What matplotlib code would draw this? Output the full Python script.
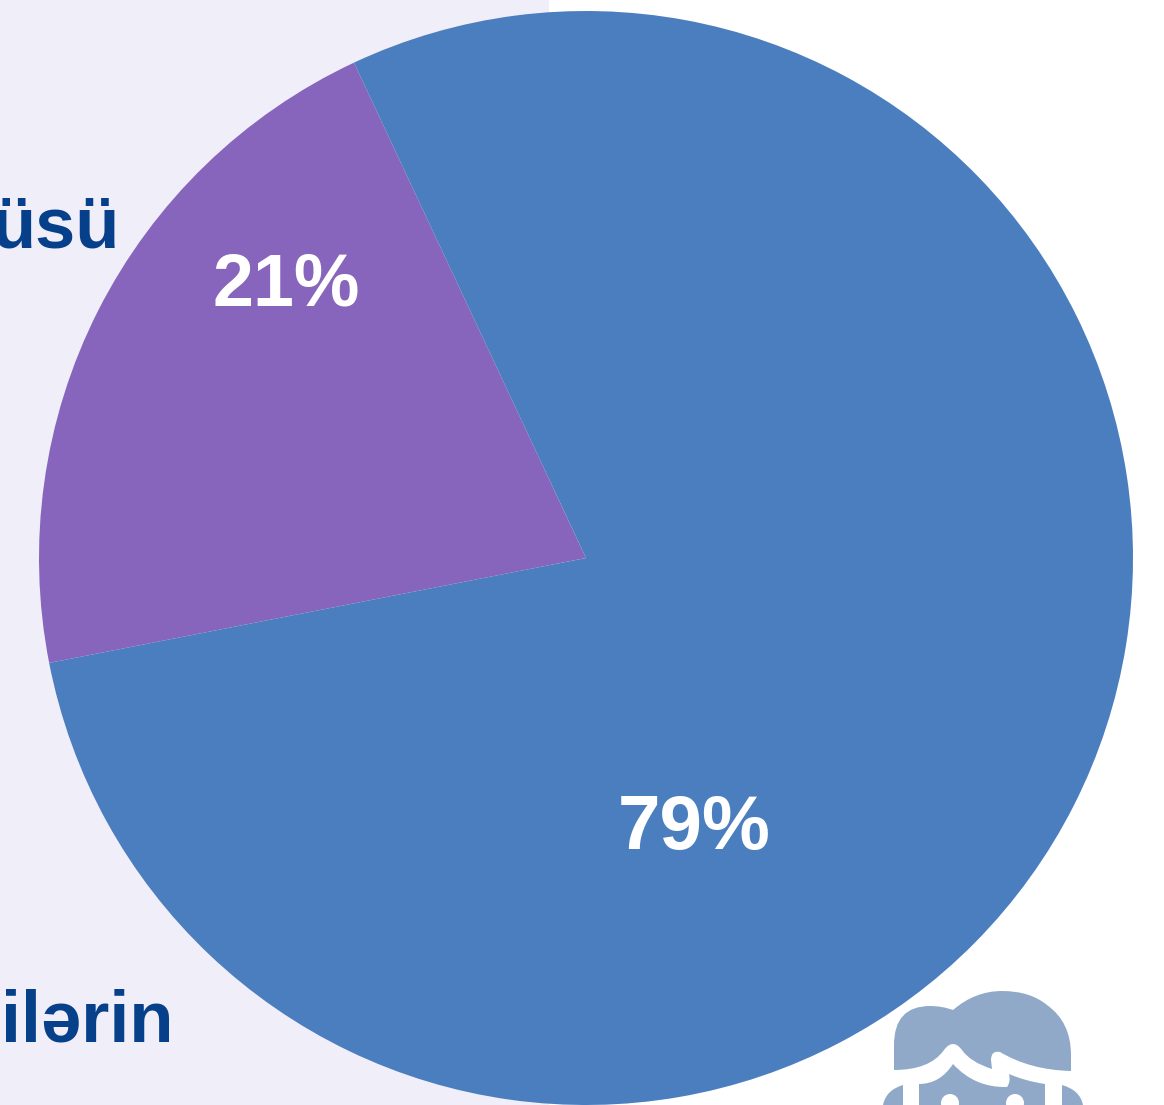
import matplotlib.pyplot as plt
from matplotlib.patches import Circle, PathPatch
from matplotlib.path import Path

# Data
shares = [21.1, 78.9]  # wedge sizes
share_labels = ['21%', '79%']
slice_colors = ['#8765BC', '#4B7EBE']
cut_off_labels = ['üsü', 'ilərin']

H = 1105


def flip(points):
    # picture coordinates have y going down
    return [(x, H - y) for x, y in points]


def icon_shape(ax, verts, codes, color='#90A9C9'):
    ax.add_patch(PathPatch(Path(flip(verts), codes), fc=color, ec='none', zorder=4))


plt.rcParams['font.family'] = ['Liberation Sans', 'DejaVu Sans']
fig = plt.figure(figsize=(11.64, 11.05), dpi=100)
ax = fig.add_axes([0, 0, 1, 1])

ax.axvspan(0, 549, color='#F0EEF8', lw=0, zorder=0)

# Step 1: the pie
ax.pie(shares, colors=slice_colors, startangle=115.1, center=(586, H - 558), radius=547,
       frame=True, wedgeprops={'linewidth': 0, 'zorder': 2})
ax.set_xlim(0, 1164)
ax.set_ylim(0, H)
ax.set_aspect('equal')
ax.axis('off')

# Step 2: labels
ax.text(286, H - 305, share_labels[0], color='white', fontsize=53, fontweight='bold',
        ha='center', va='baseline', zorder=5)
ax.text(694, H - 849, share_labels[1], color='white', fontsize=55, fontweight='bold',
        ha='center', va='baseline', zorder=5)
ax.text(120, H - 247, cut_off_labels[0], color='#07408A', fontsize=52, fontweight='bold',
        ha='right', va='baseline', zorder=5)
ax.text(173, H - 1042, cut_off_labels[1], color='#07408A', fontsize=52, fontweight='bold',
        ha='right', va='baseline', zorder=5)

# Step 3: the little person icon, cut off by the bottom edge
M, L, C, Z = Path.MOVETO, Path.LINETO, Path.CURVE3, Path.CLOSEPOLY
hair = [(894, 1070), (894, 1045), (894, 1006), (930, 1006), (942, 1006), (953, 1010),
        (975, 991), (1002, 991), (1030, 991), (1047, 1005), (1071, 1022), (1071, 1055),
        (1071, 1071), (1030, 1070), (1000, 1052), (991, 1050), (991, 1060), (992, 1069),
        (970, 1062), (962, 1050), (953, 1038), (944, 1050), (930, 1070), (894, 1070),
        (894, 1070)]
hair_codes = [M, L, C, C, C, C, C, C, C, C, C, C, L, C, C, C, C, L, C, C, C, C, C, C, Z]
icon_shape(ax, hair, hair_codes)

face = [(919, 1105), (919, 1084), (940, 1084), (953, 1064), (975, 1088), (1007, 1087),
        (1011, 1082), (1009, 1074), (1025, 1081), (1045, 1084), (1045, 1105), (919, 1105)]
face_codes = [M, L, C, C, C, C, C, C, C, C, L, Z]
icon_shape(ax, face, face_codes)

left_ear = [(903, 1085), (903, 1105), (883, 1105), (886, 1090), (903, 1085)]
right_ear = [(1062, 1085), (1062, 1105), (1083, 1105), (1080, 1090), (1062, 1085)]
ear_codes = [M, L, L, C, C]
icon_shape(ax, left_ear, ear_codes)
icon_shape(ax, right_ear, ear_codes)

for eye_x in (950, 1015):
    ax.add_patch(Circle((eye_x, H - 1103), 9, fc='white', ec='none', zorder=5))

plt.savefig('out.png', dpi=100, facecolor='white')
